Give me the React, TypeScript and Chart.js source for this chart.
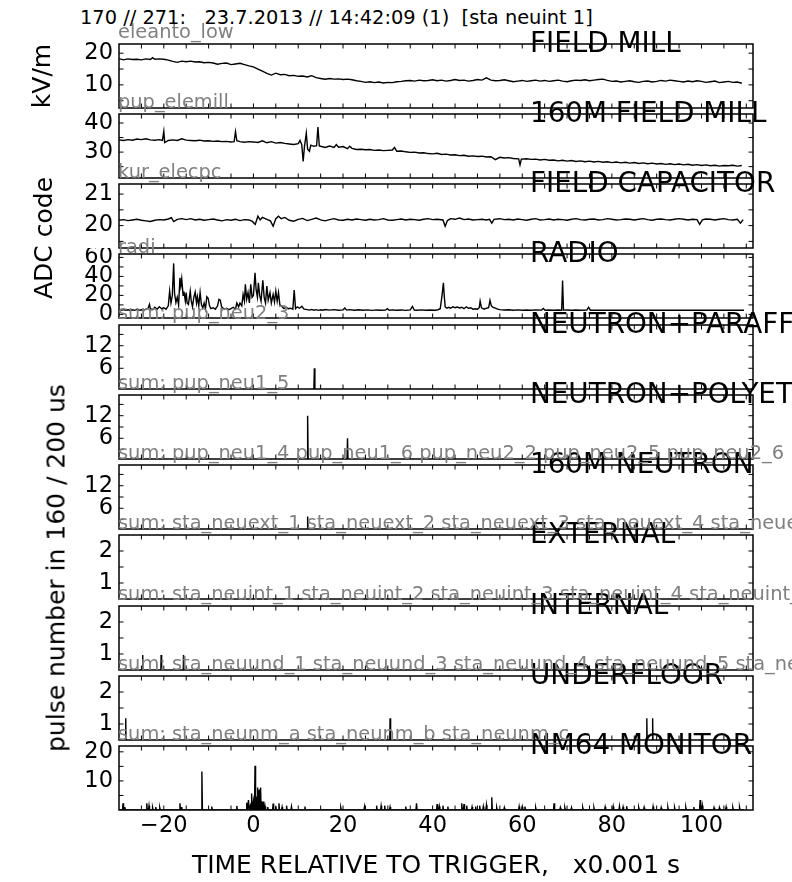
import React, { useEffect, useRef } from "react";
import { Chart, registerables } from "chart.js";

Chart.register(...registerables);

const FONT = "'DejaVu Sans', 'Bitstream Vera Sans', sans-serif";

// ---------------- data ----------------
const headerText = "170 // 271:   23.7.2013 // 14:42:09 (1)  [sta neuint 1]";
const xAxisTitle = "TIME RELATIVE TO TRIGGER,   x0.001 s";
const xTickLabels = [-20, 0, 20, 40, 60, 80, 100];
const xTickMarks = [-25, -20, -15, -10, -5, 0, 5, 10, 15, 20, 25, 30, 35, 40, 45, 50, 55, 60, 65, 70, 75, 80, 85, 90, 95, 100, 105, 110];

const panelTitles = [
  "FIELD MILL", "160M FIELD MILL", "FIELD CAPACITOR", "RADIO", "NEUTRON+PARAFF", "NEUTRON+POLYET",
  "160M NEUTRON", "EXTERNAL", "INTERNAL", "UNDERFLOOR", "NM64 MONITOR",
];
const channelLabels = [
  "eleanto_low", "pup_elemill", "kur_elecpc", "radi", "sum: pup_neu2_3", "sum: pup_neu1_5",
  "sum: pup_neu1_4 pup_neu1_6 pup_neu2_2 pup_neu2_5 pup_neu2_6",
  "sum: sta_neuext_1 sta_neuext_2 sta_neuext_3 sta_neuext_4 sta_neuext_5",
  "sum: sta_neuint_1 sta_neuint_2 sta_neuint_3 sta_neuint_4 sta_neuint_5",
  "sum: sta_neuund_1 sta_neuund_3 sta_neuund_4 sta_neuund_5 sta_neuund_6",
  "sum: sta_neunm_a sta_neunm_b sta_neunm_c",
];
const yTitles = ["kV/m", "ADC code", "pulse number in 160 / 200 us"];

const yMins = [2.7, 21.1, 19.29, -3.8, 0.5, 0.5, 0.5, 0.5, 0.5, 0.5, 0];
const yMaxs = [22.9, 43.1, 21.32, 63.6, 17.5, 17.5, 17.5, 2.5, 2.5, 2.5, 22];
const yTickLabels = [[10, 20], [30, 40], [20, 21], [0, 20, 40, 60], [6, 12], [6, 12], [6, 12], [1, 2], [1, 2], [1, 2], [10, 20]];
const yTickMarks = [
  [5, 10, 15, 20], [25, 30, 35, 40], [19.5, 20, 20.5, 21], [0, 10, 20, 30, 40, 50, 60],
  [3, 6, 9, 12, 15], [3, 6, 9, 12, 15], [3, 6, 9, 12, 15], [1, 1.5, 2], [1, 1.5, 2], [1, 1.5, 2], [5, 10, 15, 20],
];

const TRACE_START = -30;
const TRACE_END = 109.5;

const fieldMill: [number, number][] = [
  [-30, 18.3], [-29, 17.9], [-28, 18.2], [-27, 18.0], [-26, 18.1], [-25, 17.9], [-24, 18.2], [-23, 18.0], [-22.5, 18.6], [-22, 18.1],
  [-21, 18.2], [-20, 18.1], [-19, 17.8], [-18, 17.4], [-17, 17.1], [-16, 17.5], [-15, 17.3], [-14, 17.5], [-13, 17.2], [-12, 17.3],
  [-11, 17.0], [-10, 17.1], [-9, 16.9], [-8, 16.5], [-7, 16.8], [-6, 16.9], [-5, 16.4], [-4, 16.6], [-3, 16.8], [-2, 16.4],
  [-1, 16.0], [0, 15.7], [1, 15.0], [2, 14.3], [3, 13.6], [4, 13.1], [5, 13.7], [6, 13.2], [7, 13.3], [8, 12.9],
  [9, 13.0], [10, 12.7], [11, 12.8], [12, 12.5], [13, 12.9], [14, 12.3], [15, 12.0], [16, 11.8], [17, 12.0], [18, 11.8],
  [19, 11.9], [20, 11.7], [21, 11.8], [22, 11.6], [23, 11.3], [24, 11.1], [25, 10.8], [26, 11.0], [27, 10.7], [28, 10.9],
  [29, 10.6], [30, 10.8], [31, 10.7], [32, 11.0], [33, 11.1], [34, 11.3], [35, 11.4], [36, 11.2], [37, 11.5], [38, 11.3],
  [39, 11.4], [40, 11.6], [41, 11.3], [42, 11.5], [43, 11.2], [44, 11.4], [45, 11.7], [46, 11.4], [47, 11.5], [48, 11.2],
  [49, 11.4], [50, 11.7], [51, 11.5], [52, 12.2], [53, 11.5], [54, 11.3], [55, 11.4], [56, 11.6], [57, 11.3], [58, 11.0],
  [59, 11.2], [60, 11.4], [61, 11.1], [62, 11.3], [63, 11.5], [64, 11.2], [65, 11.4], [66, 11.1], [67, 11.3], [68, 11.5],
  [69, 11.2], [70, 11.0], [71, 11.3], [72, 11.5], [73, 11.4], [74, 11.6], [75, 11.3], [76, 11.5], [77, 11.7], [78, 11.8],
  [79, 11.4], [80, 11.1], [81, 11.2], [82, 10.9], [83, 11.1], [84, 11.3], [85, 11.0], [86, 10.8], [87, 11.1], [88, 11.2],
  [89, 10.9], [90, 11.1], [91, 11.4], [92, 11.2], [93, 11.5], [94, 11.3], [95, 11.1], [96, 10.9], [97, 11.2], [98, 11.0],
  [99, 11.3], [100, 11.1], [101, 10.8], [102, 11.0], [103, 11.2], [104, 10.7], [105, 10.9], [106, 11.1], [107, 10.8], [108, 10.9],
  [109, 10.5],
];

const fieldMill160: [number, number][] = [
  [-30, 34.2], [-29, 34.0], [-28, 34.3], [-27, 34.1], [-26, 34.5], [-25, 34.3], [-24, 34.6], [-23, 34.2], [-22, 34.1], [-21, 34.3],
  [-20.3, 34.0], [-20, 37.1], [-19.8, 33.3], [-19, 34.0], [-18, 34.2], [-17, 34.0], [-16, 34.6], [-15, 34.1], [-14, 34.0], [-13, 33.9],
  [-12, 34.1], [-11, 33.8], [-10, 33.9], [-9, 33.7], [-8, 33.8], [-7, 33.6], [-6, 33.7], [-5, 33.5], [-4.3, 33.6], [-4, 37.0],
  [-3.7, 33.9], [-3, 33.6], [-2, 33.4], [-1, 33.6], [0, 33.5], [1, 33.3], [2, 33.9], [3, 33.2], [4, 33.6], [5, 33.1],
  [6, 33.3], [7, 33.0], [8, 32.8], [9, 32.6], [10, 32.9], [10.4, 34.0], [10.8, 32.5], [11.1, 26.8], [11.4, 32.0], [11.8, 36.5],
  [12.1, 31.0], [12.5, 30.3], [12.8, 32.4], [13.5, 32.0], [14.1, 32.2], [14.4, 38.6], [14.7, 32.1], [15, 32.0], [16, 31.6], [17, 32.1],
  [18, 31.6], [18.5, 32.6], [19, 31.7], [20, 31.9], [21, 31.2], [21.5, 32.0], [22, 31.3], [23, 30.9], [24, 31.0], [25, 30.8],
  [26, 30.9], [27, 30.6], [28, 30.7], [29, 30.5], [30, 30.6], [31, 30.7], [31.5, 31.6], [32, 30.3], [33, 30.4], [34, 30.1],
  [35, 29.9], [36, 30.0], [37, 29.7], [38, 29.8], [39, 29.5], [40, 29.4], [41, 29.6], [42, 29.2], [43, 29.3], [44, 29.0],
  [45, 29.1], [46, 28.8], [47, 28.9], [48, 28.6], [49, 28.7], [50, 28.5], [51, 28.6], [52, 28.3], [53, 28.4], [54, 27.4],
  [55, 28.2], [56, 28.0], [57, 28.1], [58, 27.8], [59.2, 27.7], [59.5, 25.6], [59.8, 27.6], [61, 27.7], [62, 27.5], [63, 27.6],
  [64, 27.3], [65, 27.5], [66, 27.2], [67, 27.3], [68, 27.0], [69, 27.2], [70, 26.9], [71, 27.1], [72, 26.8], [73, 27.0],
  [74, 26.7], [75, 26.9], [76, 26.6], [77, 26.8], [78, 26.5], [79, 26.7], [80, 26.4], [81, 26.6], [82, 26.3], [83, 26.5],
  [84, 26.2], [85, 26.4], [86, 26.1], [87, 26.3], [88, 26.0], [89, 26.2], [90, 25.9], [91, 26.1], [92, 25.8], [93, 26.0],
  [94, 25.7], [95, 25.9], [96, 25.6], [97, 25.8], [98, 25.5], [99, 25.7], [100, 25.4], [101, 25.6], [102, 25.3], [103, 25.5],
  [104, 25.2], [105, 25.4], [106, 25.3], [107, 25.5], [108, 25.2], [109, 25.4],
];

const fieldCapacitor: [number, number][] = [
  [-30, 20.17], [-29, 20.19], [-28, 20.16], [-27, 20.18], [-26, 20.2], [-25, 20.17], [-24, 20.15], [-23, 20.13], [-22, 20.17], [-21, 20.19],
  [-20, 20.18], [-19, 20.21], [-18.3, 20.25], [-17.8, 20.13], [-17, 20.2], [-16, 20.22], [-15, 20.19], [-14, 20.22], [-13, 20.18], [-12, 20.2],
  [-11, 20.17], [-10, 20.19], [-9, 20.21], [-8, 20.18], [-7, 20.15], [-6, 20.19], [-5, 20.17], [-4, 20.2], [-3, 20.16], [-2, 20.19],
  [-1, 20.18], [-0.3, 20.14], [0.4, 20.04], [1.0, 20.3], [1.5, 20.18], [2, 20.26], [3, 20.2], [3.8, 20.15], [4.4, 19.98], [5.0, 20.22],
  [5.6, 20.3], [6.2, 20.22], [7, 20.26], [8, 20.17], [9, 20.14], [10, 20.2], [11, 20.23], [12, 20.16], [13, 20.2], [14, 20.24],
  [15, 20.18], [16, 20.15], [17, 20.19], [18, 20.22], [19, 20.18], [20, 20.17], [21, 20.2], [22, 20.18], [23, 20.21], [24, 20.19],
  [25, 20.17], [26, 20.2], [27, 20.18], [28, 20.19], [29, 20.22], [30, 20.18], [31, 20.17], [32, 20.19], [33, 20.21], [34, 20.18],
  [35, 20.2], [36, 20.19], [37, 20.17], [38, 20.2], [39, 20.22], [40, 20.19], [41, 20.2], [42.3, 20.18], [42.8, 19.98], [43.3, 20.16],
  [44, 20.22], [45, 20.2], [46, 20.24], [47, 20.19], [48, 20.21], [49, 20.18], [50, 20.19], [51, 20.2], [52, 20.18], [52.7, 20.2],
  [53.2, 20.08], [53.7, 20.2], [55, 20.22], [56, 20.19], [57, 20.2], [58, 20.18], [59, 20.21], [60, 20.19], [61, 20.17], [62, 20.2],
  [63, 20.22], [64, 20.18], [65, 20.19], [66, 20.21], [67, 20.18], [68, 20.2], [69, 20.19], [70, 20.17], [71, 20.2], [72, 20.22],
  [73, 20.19], [74, 20.18], [75, 20.2], [76, 20.21], [77, 20.18], [78, 20.19], [79, 20.22], [80, 20.2], [81, 20.18], [82, 20.19],
  [83, 20.21], [84, 20.2], [85, 20.18], [86, 20.2], [87, 20.22], [88, 20.19], [89, 20.17], [90, 20.2], [91, 20.21], [92, 20.19],
  [93, 20.18], [94, 20.2], [95, 20.22], [96, 20.2], [97, 20.18], [98, 20.2], [99, 20.19], [99.6, 20.04], [100.2, 20.18], [101, 20.21],
  [102, 20.2], [103, 20.18], [104, 20.2], [105, 20.22], [106, 20.19], [107, 20.18], [108, 20.2], [108.7, 20.08], [109.3, 20.19],
];

const radio: [number, number][] = [
  [-30, 4.6], [-29.5, 4.2], [-29, 5.0], [-28.5, 4.4], [-28, 4.8], [-27.5, 4.1], [-27, 4.9], [-26.5, 4.3], [-26, 5.2], [-25.5, 4.5],
  [-25, 4.8], [-24.5, 4.2], [-24, 5.5], [-23.5, 6.5], [-23.2, 10.5], [-23, 6.0], [-22.5, 5.0], [-22, 7.5], [-21.5, 5.5], [-21, 8.0],
  [-20.5, 6.0], [-20, 7.0], [-19.5, 5.5], [-19, 9.0], [-18.7, 24.5], [-18.4, 12], [-18.1, 20], [-17.8, 53.7], [-17.6, 22], [-17.3, 12.6],
  [-17.0, 18], [-16.7, 10], [-16.4, 38.6], [-16.2, 30], [-16.0, 37.5], [-15.7, 20], [-15.5, 24], [-15.2, 14], [-15.0, 23.1], [-14.8, 12],
  [-14.5, 10.5], [-14.1, 24.6], [-13.9, 15], [-13.6, 8], [-13.3, 18], [-13.0, 23.5], [-12.7, 12], [-12.5, 18.5], [-12.2, 9], [-11.9, 23.1],
  [-11.6, 10], [-11.3, 7], [-11.0, 12], [-10.7, 6], [-10.4, 18.6], [-10.1, 17], [-9.8, 9], [-9.5, 6], [-9.0, 7], [-8.5, 5.5],
  [-8.0, 9], [-7.7, 15.8], [-7.4, 15], [-7.1, 8], [-6.5, 5.5], [-6.0, 6.5], [-5.5, 5], [-5.0, 6], [-4.5, 7.5], [-4.0, 5.5],
  [-3.7, 12], [-3.3, 8], [-3.0, 12], [-2.6, 9], [-2.3, 21], [-2.0, 14], [-1.8, 31.6], [-1.5, 16], [-1.2, 23], [-0.9, 12],
  [-0.6, 31.6], [-0.3, 18], [0, 20], [0.36, 43.9], [0.6, 26], [0.9, 18], [1.1, 33.3], [1.4, 20], [1.7, 14], [2.1, 35.8],
  [2.4, 18], [2.7, 12], [3.0, 29.8], [3.3, 15], [3.7, 23], [4.0, 12], [4.4, 21], [4.7, 13], [5.0, 24.6], [5.3, 14],
  [5.6, 23], [5.9, 10], [6.3, 8.5], [6.8, 6], [7.3, 7.5], [7.8, 6], [8.3, 6.5], [8.8, 5.5], [9.1, 25.6], [9.4, 6],
  [9.8, 8], [10.3, 6.5], [10.8, 8.5], [11.3, 5.5], [12, 5.0], [12.5, 4.5], [13, 5.2], [13.5, 4.4], [14, 5.0], [14.5, 4.3],
  [15, 4.9], [15.5, 4.4], [16, 5.1], [17, 4.5], [18, 5.0], [19, 4.4], [20, 4.8], [20.4, 6.8], [20.8, 4.5], [21.5, 5.0],
  [22.5, 4.3], [23.5, 4.9], [24.5, 4.4], [25.5, 4.8], [26.5, 4.2], [27.5, 4.7], [28.5, 4.3], [29.5, 4.6], [29.9, 6.0], [30.3, 4.4],
  [31, 4.8], [32, 4.3], [33, 4.7], [34, 4.2], [35, 4.8], [35.5, 8.5], [35.9, 4.6], [36.5, 4.3], [37.5, 4.8], [38.5, 4.3],
  [39.5, 4.7], [40.5, 4.4], [41.2, 4.9], [41.7, 6.0], [42.1, 20], [42.4, 33.3], [42.6, 19], [42.8, 8], [43.2, 6.5], [43.6, 7.5],
  [44, 6.5], [44.5, 8.0], [45, 7.0], [45.5, 7.8], [46, 6.8], [46.5, 7.5], [47, 6.0], [47.5, 8.0], [48, 6.5], [48.5, 7.0],
  [49, 5.5], [49.5, 6.0], [50, 5.5], [50.4, 7.0], [50.6, 14], [50.9, 7.0], [51.5, 5.5], [52, 6.5], [52.5, 7.0], [52.8, 14.7],
  [53.1, 9.0], [53.5, 7.5], [54, 6.5], [54.5, 5.5], [55, 5.0], [56, 4.6], [57, 4.9], [58, 4.4], [59, 4.8], [60, 4.3],
  [61, 4.7], [62, 4.4], [63, 4.8], [64.3, 4.5], [64.7, 6.3], [65.1, 4.4], [66, 4.7], [67, 4.3], [68, 4.6], [68.8, 4.4],
  [69.0, 35.8], [69.2, 4.5], [70, 4.6], [71, 4.3], [72, 4.6], [73, 4.4], [74.4, 4.5], [74.8, 7.4], [75.2, 4.4], [76, 4.5],
  [78, 4.3], [80, 4.5], [82, 4.3], [84, 4.5], [86, 4.4], [88, 4.5], [90, 4.3], [92, 4.5], [94, 4.4], [96, 4.3],
  [98, 4.5], [100, 4.3], [102, 4.4], [104, 4.5], [106, 4.3], [108, 4.4], [109.5, 4.3],
];

const neutronParaffin: [number, number][] = [[13.6, 6]];
const neutronPolyethylene: [number, number][] = [[12.1, 12], [21.0, 6]];
const neutron160m: [number, number][] = [[12.1, 3.8]];
const neutronExternal: [number, number][] = [];
const neutronInternal: [number, number][] = [[-24.7, 0.97], [-20.6, 0.97], [-15.6, 0.97]];
const neutronUnderfloor: [number, number][] = [[-28.5, 1.18], [30.5, 1.18], [87.8, 1.18], [89.1, 1.18]];
const nm64: [number, number][] = [
  [-29.1, 2.3], [-28.7, 1.0], [-23.8, 2.3], [-23.3, 1.5], [-22.5, 0.8], [-21.8, 1.0], [-20.9, 0.8], [-16.4, 2.3], [-16.0, 1.0], [-11.5, 13.2],
  [-9.3, 1.2], [-3.7, 1.4], [-1.5, 2.5], [-1.1, 3.4], [-0.7, 1.5], [-0.4, 5.7], [0.0, 3.0], [0.36, 15.2], [0.7, 4.6], [1.0, 7.7],
  [1.3, 7.0], [1.6, 7.7], [1.9, 3.0], [2.2, 2.9], [2.6, 1.2], [3.2, 1.0], [4.4, 2.2], [5.0, 1.2], [5.7, 2.3], [6.4, 1.0],
  [7.4, 1.5], [8.5, 1.2], [11.5, 1.2], [19.5, 0.8], [24.8, 1.2], [27.5, 1.5], [28.5, 1.4], [29.3, 1.5], [30.5, 1.0], [34.0, 1.2],
  [36.4, 2.3], [41.0, 2.0], [41.5, 1.2], [42.3, 1.5], [43.4, 1.2], [46.5, 2.3], [47.0, 2.0], [47.6, 1.5], [48.8, 1.0], [49.6, 1.2],
  [50.5, 1.5], [51.3, 1.2], [52.0, 1.7], [53.2, 4.4], [54.3, 0.8], [56.0, 0.8], [59.3, 1.2], [60.0, 1.0], [60.6, 1.2], [63.0, 0.8],
  [67.1, 2.3], [68.5, 0.8], [69.5, 0.8], [71.0, 0.8], [73.5, 0.8], [76.0, 0.8], [78.5, 1.0], [80.3, 1.2], [81.7, 1.3], [82.5, 1.0],
  [83.3, 1.3], [86.0, 0.8], [87.2, 0.9], [89.2, 1.2], [91.0, 0.8], [92.5, 0.9], [94.0, 0.8], [96.5, 0.9], [98.3, 1.0], [99.7, 3.4],
  [100.2, 1.5], [102.8, 0.8], [104.0, 0.8], [105.5, 1.0], [107.0, 0.8], [108.5, 0.9],
];

// ---------------- layout ----------------
const W = 792;
const H = 882;
const PLOT_L = 119;
const PLOT_R = 753;
const X_MIN = -30;
const X_MAX = 111.5;
const PANEL_TOPS = [44, 114, 184, 254, 325, 395, 465, 535, 606, 676, 746];
const PANEL_H = 64;
const PAD = 6;
const X_AXIS_H = 40;
const TICK_FONT = 22.5;

type Pt = { x: number; y: number };
const toPts = (arr: [number, number][]): Pt[] => arr.map(([x, y]) => ({ x, y }));
const spikePts = (events: [number, number][]): Pt[] => {
  const pts: Pt[] = [{ x: TRACE_START, y: 0 }];
  for (const [t, v] of events) {
    pts.push({ x: t - 0.12, y: 0 }, { x: t, y: v }, { x: t + 0.12, y: 0 });
  }
  pts.push({ x: TRACE_END, y: 0 });
  return pts;
};

const seriesData: Pt[][] = [
  toPts(fieldMill), toPts(fieldMill160), toPts(fieldCapacitor), toPts(radio),
  spikePts(neutronParaffin), spikePts(neutronPolyethylene), spikePts(neutron160m),
  spikePts(neutronExternal), spikePts(neutronInternal), spikePts(neutronUnderfloor), spikePts(nm64),
];

const fmtNum = (v: number) => (v < 0 ? "\u2212" + Math.abs(v) : String(v));

const zeroPadding = (s: any) => {
  s.paddingTop = 0;
  s.paddingBottom = 0;
  s.paddingLeft = 0;
  s.paddingRight = 0;
};

function framePlugin(yMarks: number[]) {
  return {
    id: "frame",
    afterDatasetsDraw(chart: any) {
      const { ctx, chartArea: a, scales } = chart;
      const xs = scales.x;
      const ys = scales.y;
      ctx.save();
      ctx.strokeStyle = "#000";
      ctx.lineWidth = 1;
      const L = 4.5;
      const seg = (x1: number, y1: number, x2: number, y2: number) => {
        ctx.beginPath();
        ctx.moveTo(x1, y1);
        ctx.lineTo(x2, y2);
        ctx.stroke();
      };
      for (const v of xTickMarks) {
        const px = xs.getPixelForValue(v);
        if (px <= a.left + 1 || px >= a.right - 1) continue;
        seg(px, a.top, px, a.top + L);
        seg(px, a.bottom, px, a.bottom - L);
      }
      for (const v of yMarks) {
        const py = ys.getPixelForValue(v);
        if (py <= a.top + 1 || py >= a.bottom - 1) continue;
        seg(a.left, py, a.left + L, py);
        seg(a.right, py, a.right - L, py);
      }
      ctx.lineWidth = 1.5;
      ctx.strokeRect(a.left, a.top, a.right - a.left, a.bottom - a.top);
      ctx.restore();
    },
  };
}

function Label(props: { x: number; baseline: number; size: number; color?: string; text: string }) {
  const { x, baseline, size, color, text } = props;
  return (
    <div
      style={{
        position: "absolute",
        left: x,
        top: baseline - 0.846 * size,
        fontSize: size,
        lineHeight: `${size}px`,
        color: color || "#000",
        whiteSpace: "pre",
        fontFamily: FONT,
      }}
    >
      {text}
    </div>
  );
}

function VLabel(props: { cx: number; cy: number; size: number; text: string }) {
  const { cx, cy, size, text } = props;
  return (
    <div
      style={{
        position: "absolute",
        left: cx,
        top: cy,
        transform: "translate(-50%, -50%) rotate(-90deg)",
        fontSize: size,
        lineHeight: `${size}px`,
        whiteSpace: "pre",
        fontFamily: FONT,
        color: "#000",
      }}
    >
      {text}
    </div>
  );
}

export default function App() {
  const refs = useRef<(HTMLCanvasElement | null)[]>([]);

  useEffect(() => {
    const charts: Chart[] = [];
    for (let i = 0; i < 11; i++) {
      const canvas = refs.current[i];
      if (!canvas) continue;
      const isLast = i === 10;
      const labels = yTickLabels[i];
      const chart = new Chart(canvas, {
        type: "line",
        data: {
          datasets: [
            {
              data: seriesData[i] as any,
              borderColor: "#000",
              borderWidth: 1.4,
              pointRadius: 0,
              tension: 0,
              fill: false,
            },
          ],
        },
        options: {
          animation: false,
          responsive: false,
          events: [],
          layout: { autoPadding: false, padding: { left: 0, right: W - PLOT_R, top: PAD, bottom: isLast ? 0 : PAD } },
          plugins: { legend: { display: false }, tooltip: { enabled: false } },
          scales: {
            x: {
              type: "linear",
              min: X_MIN,
              max: X_MAX,
              display: isLast,
              grid: { display: false, drawTicks: false },
              border: { display: false },
              ticks: {
                autoSkip: false,
                maxRotation: 0,
                padding: 3,
                color: "#000",
                font: { family: FONT, size: TICK_FONT },
                callback: (v: any) => fmtNum(Number(v)),
              },
              afterBuildTicks: (s: any) => {
                s.ticks = xTickLabels.map((v) => ({ value: v }));
              },
              afterFit: (s: any) => {
                if (isLast) s.height = X_AXIS_H;
                zeroPadding(s);
              },
            },
            y: {
              type: "linear",
              min: yMins[i],
              max: yMaxs[i],
              position: "left",
              grid: { display: false, drawTicks: false },
              border: { display: false },
              ticks: {
                autoSkip: false,
                padding: 6,
                color: "#000",
                font: { family: FONT, size: TICK_FONT },
                callback: (v: any) => fmtNum(Number(v)),
              },
              afterBuildTicks: (s: any) => {
                s.ticks = labels.map((v) => ({ value: v }));
              },
              afterFit: (s: any) => {
                s.width = PLOT_L;
                zeroPadding(s);
              },
            },
          },
        },
        plugins: [framePlugin(yTickMarks[i]) as any],
      });
      charts.push(chart);
    }
    return () => charts.forEach((c) => c.destroy());
  }, []);

  const hasDesc = (s: string) => /[pgyqj_]/.test(s);

  return (
    <div
      style={{
        position: "absolute",
        left: 0,
        top: 0,
        width: W,
        height: H,
        overflow: "hidden",
        background: "#fff",
        fontFamily: FONT,
      }}
    >
      {PANEL_TOPS.map((top, i) => {
        const isLast = i === 10;
        const h = PAD + PANEL_H + (isLast ? X_AXIS_H : PAD);
        return (
          <canvas
            key={"c" + i}
            ref={(el) => {
              refs.current[i] = el;
            }}
            width={W}
            height={h}
            style={{ position: "absolute", left: 0, top: top - PAD, width: W, height: h }}
          />
        );
      })}
      <Label x={80} baseline={24} size={19.4} text={headerText} />
      {PANEL_TOPS.map((top, i) => (
        <Label key={"t" + i} x={530} baseline={top + 8.5} size={27.8} text={panelTitles[i]} />
      ))}
      {PANEL_TOPS.map((top, i) => (
        <Label
          key={"g" + i}
          x={118}
          baseline={top - 1 - (hasDesc(channelLabels[i]) ? 4.6 : 0)}
          size={19.4}
          color="#808080"
          text={channelLabels[i]}
        />
      ))}
      <VLabel cx={41} cy={76} size={25} text={yTitles[0]} />
      <VLabel cx={43} cy={238} size={25} text={yTitles[1]} />
      <VLabel cx={55.5} cy={568} size={25} text={yTitles[2]} />
      <div
        style={{
          position: "absolute",
          left: PLOT_L,
          width: PLOT_R - PLOT_L,
          top: 873 - 0.846 * 25,
          fontSize: 25,
          lineHeight: "25px",
          textAlign: "center",
          whiteSpace: "pre",
          fontFamily: FONT,
          color: "#000",
        }}
      >
        {xAxisTitle}
      </div>
    </div>
  );
}
